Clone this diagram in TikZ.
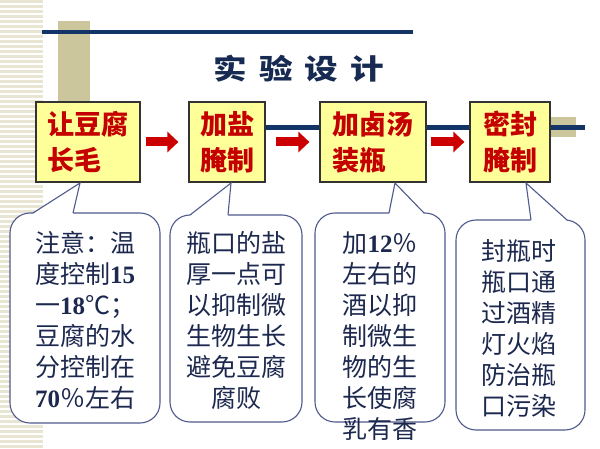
\documentclass[tikz,border=0pt]{standalone}
\usepackage{fontspec}
\setmainfont{Liberation Serif}
\newfontfamily\cjk{Noto Sans CJK SC}
\usetikzlibrary{arrows.meta}

\definecolor{navy}{RGB}{18,52,102}
\definecolor{titlenavy}{RGB}{22,42,82}
\definecolor{tan}{RGB}{204,198,156}
\definecolor{stripecol}{RGB}{233,229,211}
\definecolor{boxfill}{RGB}{255,255,153}
\definecolor{boxred}{RGB}{196,0,0}
\definecolor{arrowred}{RGB}{204,0,0}
\definecolor{calloutline}{RGB}{80,90,140}
\definecolor{notecol}{RGB}{28,40,78}

\newcommand\bnum[1]{{\rmfamily\bfseries #1}}

\tikzset{
  stepbox/.style={draw=black!80, line width=1.2pt, fill=boxfill, inner sep=0pt,
    minimum height=80pt, align=left, text=boxred,
    font=\cjk\bfseries\fontsize{27}{36}\selectfont},
  flow/.style={line width=9pt, arrowred, -{Triangle[length=11pt,width=20pt]}},
  notebox/.style={draw=calloutline, line width=1.1pt, fill=white, rounded corners=20pt, inner sep=0pt},
  pointer/.style={draw=calloutline, line width=1.1pt},
  notetext/.style={text=notecol, inner sep=0pt, font=\cjk\fontsize{25}{31}\selectfont},
}

\begin{document}
\begin{tikzpicture}[x=1pt, y=-1pt]
	\useasboundingbox (0,0) rectangle (600,449);
	
	% stripes at the left border
	\foreach \y in {1.5,6.5,...,449}
		\draw[stripecol, line width=2.5pt] (0,\y) -- (43,\y);
	
	\fill[tan] (58,21) rectangle (90,103);
	\fill[tan] (550,117) rectangle (576,137);
	\draw[navy, line width=4.5pt] (42,32) -- (413,32);
	\draw[navy, line width=5pt] (265,128) -- (585,128);
	
	\node[text=titlenavy, font=\cjk\bfseries\fontsize{28}{30}\selectfont] (title) at (299,69)
		{\scalebox{1.2}[1]{实\hspace{10pt}验\hspace{10pt}设\hspace{10pt}计}};
	
	% steps
	\node[stepbox, minimum width=104pt] (b1) at (88,142) {让豆腐\\长毛};
	\node[stepbox, minimum width=76pt] (b2) at (227,142) {加盐\\腌制};
	\node[stepbox, minimum width=106pt] (b3) at (373,142) {加卤汤\\装瓶};
	\node[stepbox, minimum width=80pt] (b4) at (510,142) {密封\\腌制};
	
	\draw[flow, shorten <=5pt, shorten >=10pt] (b1) -- (b2);
	\draw[flow, shorten <=10pt, shorten >=10pt] (b2) -- (b3);
	\draw[flow, shorten <=4pt, shorten >=5pt] (b3) -- (b4);
	
	% notes
	\node[notebox, minimum width=150pt, minimum height=210pt] (c1) at (85,318) {};
	\node[notebox, minimum width=132pt, minimum height=207pt] (c2) at (236,318.5) {};
	\node[notebox, minimum width=130pt, minimum height=209pt] (c3) at (380,317.5) {};
	\node[notebox, minimum width=129pt, minimum height=210pt] (c4) at (520.5,325) {};
	
	\foreach \l/\r/\tx/\by in {33/73/80/213, 190/228/231/215, 389/424/395/213, 531/567/526/220}{
		\fill[white] (\l,\by+0.8) -- (\tx,183) -- (\r,\by+0.8) -- cycle;
		\draw[pointer] (\l,\by) -- (\tx,183) -- (\r,\by);
	}
	
	\node[notetext, align=left] (t1) at (85,320)
		{注意：温\\度控制\bnum{15}\\一\bnum{18}℃；\\豆腐的水\\分控制在\\\bnum{70}％左右};
	\node[notetext, align=center] (t2) at (236,321)
		{瓶口的盐\\厚一点可\\以抑制微\\生物生长\\避免豆腐\\腐败};
	\node[notetext, align=left] (t3) at (380,336.5)
		{加\bnum{12}％\\左右的\\酒以抑\\制微生\\物的生\\长使腐\\乳有香};
	\node[notetext, align=left] (t4) at (519,328)
		{封瓶时\\瓶口通\\过酒精\\灯火焰\\防治瓶\\口污染};
	
\end{tikzpicture}
\end{document}
